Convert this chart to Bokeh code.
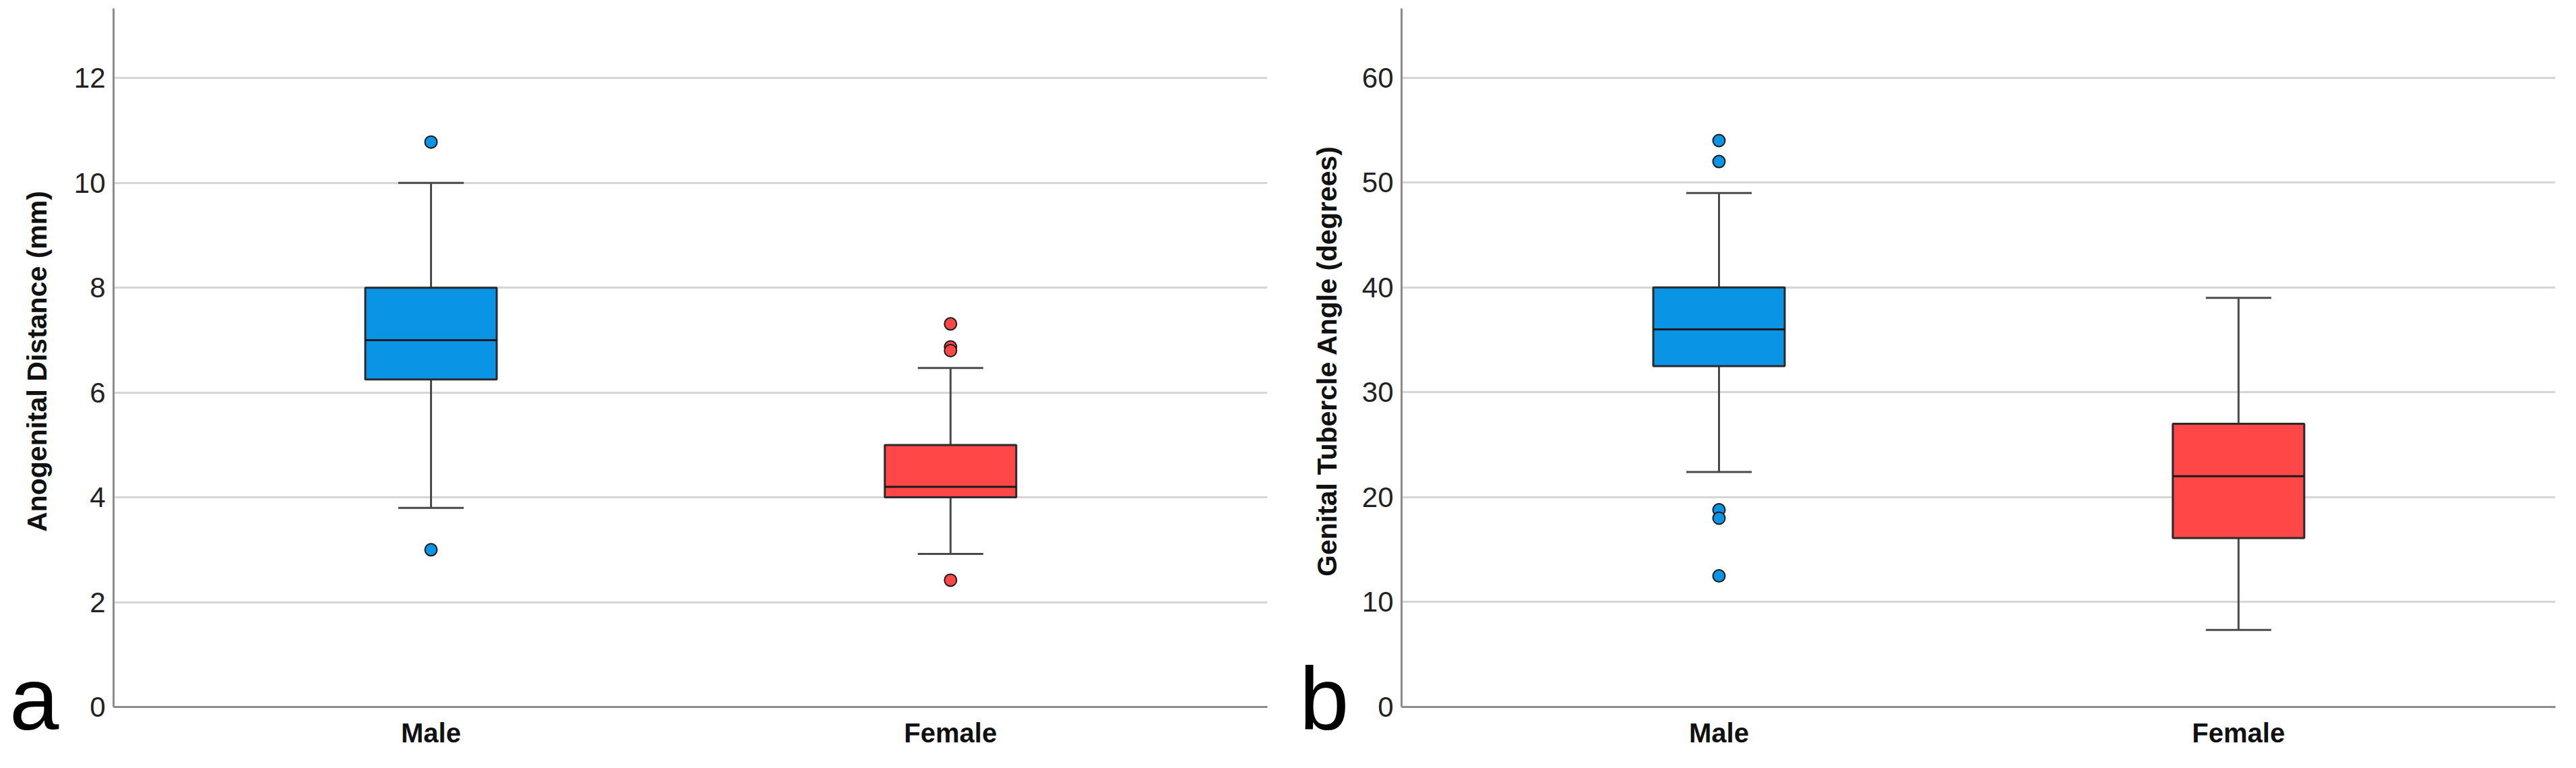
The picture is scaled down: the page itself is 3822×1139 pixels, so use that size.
from bokeh.plotting import figure
from bokeh.layouts import row
from bokeh.models import FixedTicker, Range1d, ColumnDataSource, Div
from bokeh.embed import file_html
from bokeh.resources import INLINE

# ---- data ----
categories = ["Male", "Female"]

agd_lower = [3.8, 2.92]
agd_q1 = [6.25, 4.0]
agd_median = [7.0, 4.2]
agd_q3 = [8.0, 5.0]
agd_upper = [10.0, 6.47]
agd_outliers = {"Male": [10.78, 3.0], "Female": [7.31, 6.87, 6.8, 2.42]}
agd_ticks = [0, 2, 4, 6, 8, 10, 12]

gta_lower = [22.4, 7.35]
gta_q1 = [32.5, 16.1]
gta_median = [36.0, 22.0]
gta_q3 = [40.0, 27.0]
gta_upper = [49.0, 39.0]
gta_outliers = {"Male": [54.0, 52.0, 18.8, 18.0, 12.5], "Female": []}
gta_ticks = [0, 10, 20, 30, 40, 50, 60]

colors = ["#0a94e6", "#ff4747"]

FONT = "Liberation Sans, Arial, sans-serif"
H = 1120


def make_side(width, title, title_cx, title_cy, letter, letter_x):
    html = (
        f'<div style="position:relative;width:{width}px;height:{H}px;margin:0;padding:0;">'
        f'<div style="position:absolute;left:{title_cx}px;top:{title_cy}px;'
        f'transform:translate(-50%,-50%) rotate(-90deg);white-space:nowrap;'
        f"font-family:'Liberation Sans',Arial,sans-serif;font-weight:bold;font-size:41px;"
        f'line-height:41px;color:#111111;">{title}</div>'
        f'<div style="position:absolute;left:{letter_x}px;top:971px;'
        f"font-family:'Liberation Sans',Arial,sans-serif;font-size:132px;line-height:132px;"
        f'color:#000000;">{letter}</div>'
        f'</div>'
    )
    return Div(text=html, width=width, height=H, margin=0)


def make_panel(lower, q1, med, q3, upper, outliers, ticks, ymax, width, bl, br):
    p = figure(width=width, height=H, output_backend="svg", toolbar_location=None,
               x_range=Range1d(0.389, 2.61), y_range=Range1d(0, ymax),
               min_border_left=bl, min_border_right=br, min_border_top=12,
               min_border_bottom=72)
    p.outline_line_color = None
    p.background_fill_color = "white"
    p.border_fill_color = "white"
    p.xgrid.grid_line_color = None
    p.ygrid.grid_line_color = "#d6d6d6"
    p.ygrid.grid_line_width = 3
    p.ygrid.ticker = FixedTicker(ticks=ticks)

    xs = [i + 1 for i in range(len(categories))]
    bw = 0.253
    cw = 0.126
    src = ColumnDataSource(dict(x=xs, lower=lower, q1=q1, med=med, q3=q3, upper=upper,
                                color=colors,
                                cl=[x - cw / 2 for x in xs], cr=[x + cw / 2 for x in xs],
                                bl=[x - bw / 2 for x in xs], br=[x + bw / 2 for x in xs]))
    wc = "#4a4a4a"
    p.segment(x0="x", y0="q3", x1="x", y1="upper", source=src, line_color=wc, line_width=3)
    p.segment(x0="x", y0="lower", x1="x", y1="q1", source=src, line_color=wc, line_width=3)
    p.segment(x0="cl", y0="upper", x1="cr", y1="upper", source=src, line_color=wc, line_width=3)
    p.segment(x0="cl", y0="lower", x1="cr", y1="lower", source=src, line_color=wc, line_width=3)
    p.vbar(x="x", width=bw, bottom="q1", top="q3", source=src, fill_color="color",
           line_color="#2a2a2a", line_width=3)
    p.segment(x0="bl", y0="med", x1="br", y1="med", source=src, line_color="#1a1a1a", line_width=3)

    for i, c in enumerate(categories):
        vals = outliers[c]
        if vals:
            p.scatter([xs[i]] * len(vals), vals, size=18, fill_color=colors[i],
                      line_color="#1a1a1a", line_width=2)

    p.xaxis.ticker = FixedTicker(ticks=xs)
    p.xaxis.major_label_overrides = {x: c for x, c in zip(xs, categories)}
    p.yaxis.ticker = FixedTicker(ticks=ticks)
    for ax in (p.xaxis[0], p.yaxis[0]):
        ax.axis_line_color = "#8c8c8c"
        ax.axis_line_width = 3
        ax.major_tick_line_color = None
        ax.minor_tick_line_color = None
        ax.major_tick_out = 0
        ax.major_tick_in = 0
    p.xaxis.major_label_text_font = FONT
    p.xaxis.major_label_text_font_size = "40px"
    p.xaxis.major_label_text_font_style = "bold"
    p.xaxis.major_label_text_color = "#111111"
    p.xaxis.major_label_standoff = 16
    p.yaxis.major_label_text_font = FONT
    p.yaxis.major_label_text_font_size = "42px"
    p.yaxis.major_label_text_color = "#222222"
    p.yaxis.major_label_standoff = 12
    return p


side_a = make_side(92, "Anogenital Distance (mm)", 55, 536, "a", 14)
pa = make_panel(agd_lower, agd_q1, agd_median, agd_q3, agd_upper, agd_outliers,
                agd_ticks, 13.33, 1830, 76, 42)
side_b = make_side(90, "Genital Tubercle Angle (degrees)", 47, 536, "b", 6)
pb = make_panel(gta_lower, gta_q1, gta_median, gta_q3, gta_upper, gta_outliers,
                gta_ticks, 66.6, 1790, 67, 11)

layout = row(side_a, pa, side_b, pb)
open("out.html", "w").write(file_html(layout, INLINE))
